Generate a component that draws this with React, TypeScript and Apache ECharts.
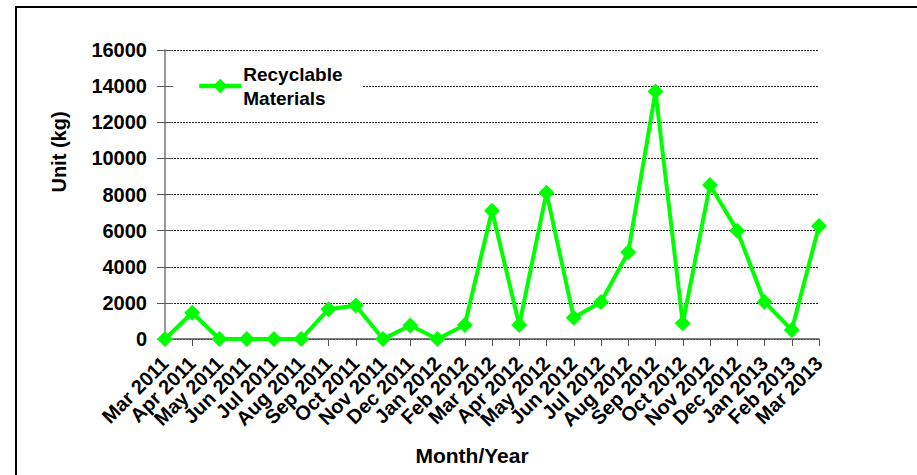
import React, { useEffect, useRef } from "react";
import * as echarts from "echarts";

const categories = [
  "Mar 2011", "Apr 2011", "May 2011", "Jun 2011", "Jul 2011", "Aug 2011",
  "Sep 2011", "Oct 2011", "Nov 2011", "Dec 2011", "Jan 2012", "Feb 2012",
  "Mar 2012", "Apr 2012", "May 2012", "Jun 2012", "Jul 2012", "Aug 2012",
  "Sep 2012", "Oct 2012", "Nov 2012", "Dec 2012", "Jan 2013", "Feb 2013",
  "Mar 2013",
];

const recyclable = [
  0, 1450, 0, 0, 0, 0,
  1650, 1850, 0, 750, 0, 780,
  7100, 780, 8100, 1180, 2050, 4800,
  13700, 870, 8530, 6000, 2050, 500,
  6250,
];

const yMin = 0;
const yMax = 16000;
const yInterval = 2000;

const FONT = '"Liberation Sans", Arial, sans-serif';

export default function App() {
  const ref = useRef<HTMLDivElement>(null);

  useEffect(() => {
    if (!ref.current) return;
    const chart = echarts.init(ref.current, undefined, { renderer: "svg" });
    chart.setOption({
      animation: false,
      backgroundColor: "#ffffff",
      graphic: [
        {
          type: "rect",
          shape: { x: 16, y: 7, width: 1000, height: 1000 },
          style: { fill: "none", stroke: "#000", lineWidth: 2 },
          z: 100,
        },
        {
          type: "rect",
          shape: { x: 173, y: 62, width: 189, height: 50 },
          style: { fill: "#ffffff" },
          z: 1,
        },
        {
          type: "text",
          x: 59,
          y: 152,
          rotation: Math.PI / 2,
          style: {
            text: "Unit (kg)",
            font: `bold 20px ${FONT}`,
            fill: "#000",
            align: "center",
            verticalAlign: "middle",
          },
        },
        {
          type: "text",
          x: 472,
          y: 455,
          style: {
            text: "Month/Year",
            font: `bold 21px ${FONT}`,
            fill: "#000",
            align: "center",
            verticalAlign: "middle",
          },
        },
      ],
      grid: { left: 165, right: 98, top: 50, bottom: 136 },
      legend: {
        show: true,
        left: 192,
        top: 50,
        orient: "vertical",
        padding: [0, 5, 0, 5],
        itemWidth: 42,
        itemHeight: 18,
        itemGap: 0,
        lineStyle: { width: 4.5 },
        textStyle: {
          fontFamily: FONT,
          fontWeight: "bold",
          fontSize: 19,
          color: "#000",
          lineHeight: 24,
          padding: [24, 0, 0, -3],
        },
        data: [{ name: "Recyclable\nMaterials" }],
      },
      xAxis: {
        type: "category",
        data: categories,
        boundaryGap: false,
        axisLine: { lineStyle: { color: "#555", width: 1.5 } },
        axisTick: { show: true, length: 7, alignWithLabel: true, lineStyle: { color: "#555" } },
        axisLabel: {
          interval: 0,
          rotate: 45,
          margin: 21,
          fontFamily: FONT,
          fontWeight: "bold",
          fontSize: 20,
          color: "#000",
        },
        splitLine: { show: false },
      },
      yAxis: [
        {
          type: "value",
          min: yMin,
          max: yMax,
          interval: yInterval,
          axisLine: { show: true, lineStyle: { color: "#777", width: 1.5 } },
          axisTick: { show: true, length: 8, lineStyle: { color: "#555" } },
          axisLabel: {
            margin: 18,
            formatter: (v: number) => String(v),
            fontFamily: FONT,
            fontWeight: "bold",
            fontSize: 20,
            color: "#000",
          },
          splitLine: {
            show: true,
            lineStyle: { color: "#222", type: [2, 1], width: 1 },
          },
        },
        {
          type: "value",
          min: yMin,
          max: yMax,
          interval: yInterval,
          position: "left",
          axisLine: { show: false },
          axisTick: { show: true, inside: true, length: 8, lineStyle: { color: "#555" } },
          axisLabel: { show: false },
          splitLine: { show: false },
        },
      ],
      series: [
        {
          name: "Recyclable\nMaterials",
          type: "line",
          yAxisIndex: 0,
          data: recyclable,
          symbol: "diamond",
          symbolSize: 16,
          lineStyle: { color: "#00ff00", width: 4 },
          itemStyle: { color: "#00ff00" },
          z: 5,
        },
      ],
    });
    return () => chart.dispose();
  }, []);

  return (
    <div
      ref={ref}
      style={{ position: "absolute", left: 0, top: 0, width: 917, height: 475 }}
    />
  );
}
